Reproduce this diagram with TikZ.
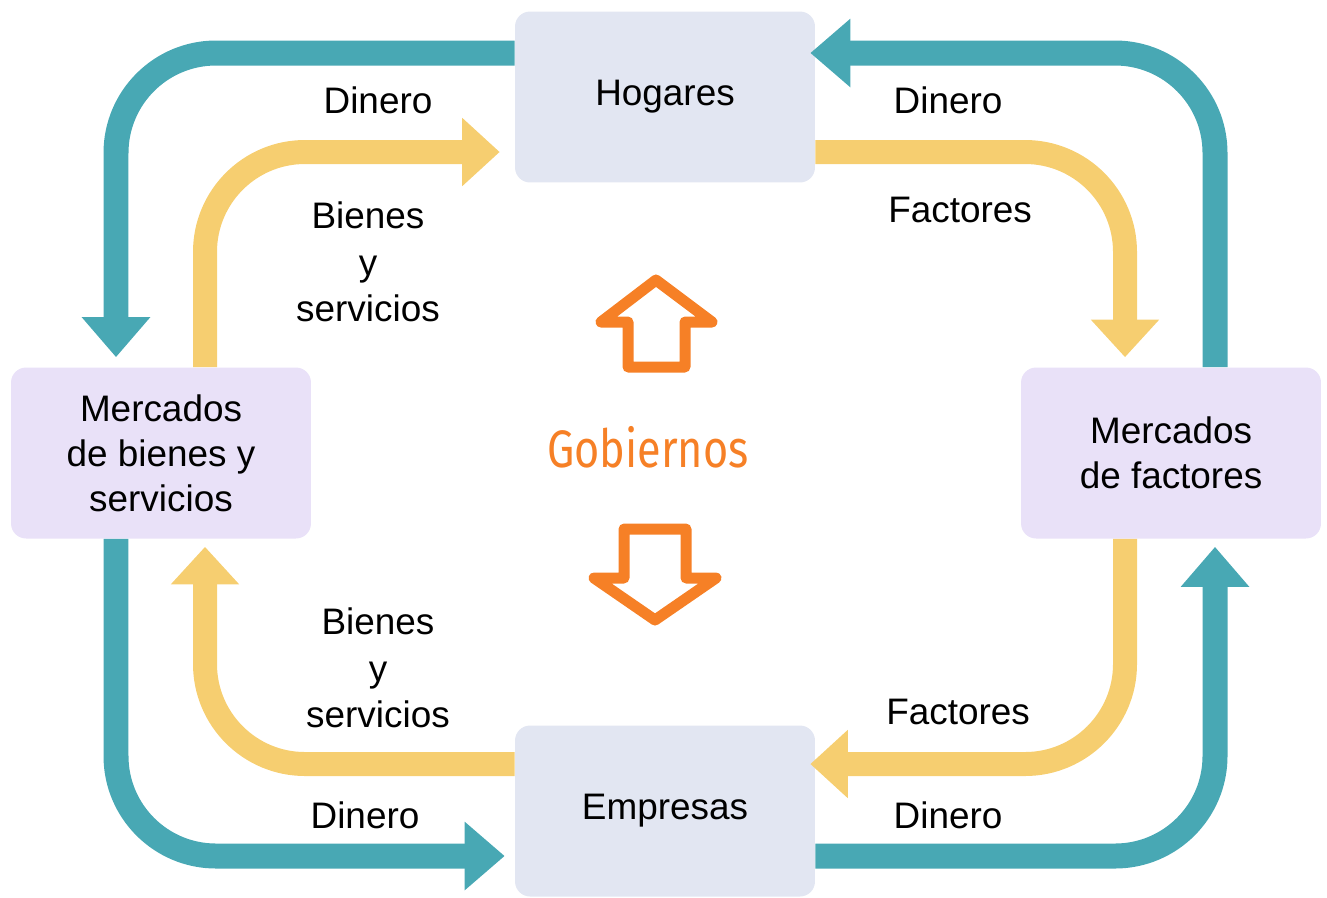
\documentclass[tikz,border=0pt]{standalone}
\usepackage{fontspec}
\setmainfont{Liberation Sans}
\newfontfamily\gobfont{Fira Sans}
\usetikzlibrary{arrows.meta,calc}

\definecolor{flujoazul}{RGB}{72,168,180}
\definecolor{flujoamarillo}{RGB}{246,206,112}
\definecolor{cajagris}{RGB}{226,230,242}
\definecolor{cajalila}{RGB}{233,225,248}
\definecolor{naranja}{RGB}{246,128,38}

\begin{document}
\begin{tikzpicture}[x=0.02cm, y=-0.02cm,
		caja/.style={rounded corners=0.3cm, minimum width=6cm, minimum height=3.42cm, align=center, font=\fontsize{21}{25.5}\selectfont},
		dinero/.style={draw=flujoazul, line width=0.5cm, rounded corners=2cm, -{Triangle[width=1.32cm,length=0.8cm]}},
		bienes/.style={draw=flujoamarillo, line width=0.48cm, rounded corners=2cm, -{Triangle[width=1.32cm,length=0.75cm]}},
		etiqueta/.style={align=center, font=\fontsize{21}{26.5}\selectfont},
		hueca/.style={draw=naranja, line width=0.22cm, line join=round}]
		\useasboundingbox (0,0) rectangle (1327,897);
		
		\node[caja, fill=cajagris] (hog) at (665,97) {Hogares};
		\node[caja, fill=cajagris] (emp) at (665,811) {Empresas};
		\node[caja, fill=cajalila] (mb) at (161,453) {Mercados\\de bienes y\\servicios};
		\node[caja, fill=cajalila] (mf) at (1171,453) {Mercados\\de factores};
		
		\draw[dinero, shorten >=0.2cm] ($(hog.west)+(0,-44)$) -| ($(mb.north)+(-45,0)$);
		\draw[bienes, shorten >=0.3cm] ($(mb.north)+(44,0)$) |- ($(hog.west)+(0,55)$);
		\draw[dinero, shorten >=-0.1cm] ($(mf.north)+(44,0)$) |- ($(hog.east)+(0,-44)$);
		\draw[bienes, shorten >=0.2cm] ($(hog.east)+(0,55)$) -| ($(mf.north)+(-46,0)$);
		\draw[dinero, shorten >=0.2cm] ($(mb.south)+(-45,0)$) |- ($(emp.west)+(0,45)$);
		\draw[bienes, shorten >=0.16cm] ($(emp.west)+(0,-47)$) -| ($(mb.south)+(44,0)$);
		\draw[bienes, shorten >=-0.1cm] ($(mf.south)+(-46,0)$) |- ($(emp.east)+(0,-47)$);
		\draw[dinero, shorten >=0.16cm] ($(emp.east)+(0,45)$) -| ($(mf.south)+(44,0)$);
		
		\node[etiqueta] (d1) at (378,100) {Dinero};
		\node[etiqueta] (d2) at (948,100) {Dinero};
		\node[etiqueta] (f1) at (960,210) {Factores};
		\node[etiqueta] (b1) at (368,262) {Bienes\\y\\servicios};
		\node[etiqueta] (b2) at (378,668) {Bienes\\y\\servicios};
		\node[etiqueta] (f2) at (958,712) {Factores};
		\node[etiqueta] (d3) at (365,815) {Dinero};
		\node[etiqueta] (d4) at (948,815) {Dinero};
		
		\node[text=naranja, font=\gobfont\fontsize{30}{36}\selectfont] (gob) at (648,447) {\scalebox{0.82}[1]{Gobiernos}};
		
		% flechas del gobierno
		\draw[hueca] (656,280) -- (712,322) -- (685,322) -- (685,367) -- (628,367) -- (628,322) -- (601,322) -- cycle;
		\draw[hueca] (624,529) -- (686,529) -- (686,578) -- (716,578) -- (655,620) -- (594,578) -- (624,578) -- cycle;
	\end{tikzpicture}
\end{document}
